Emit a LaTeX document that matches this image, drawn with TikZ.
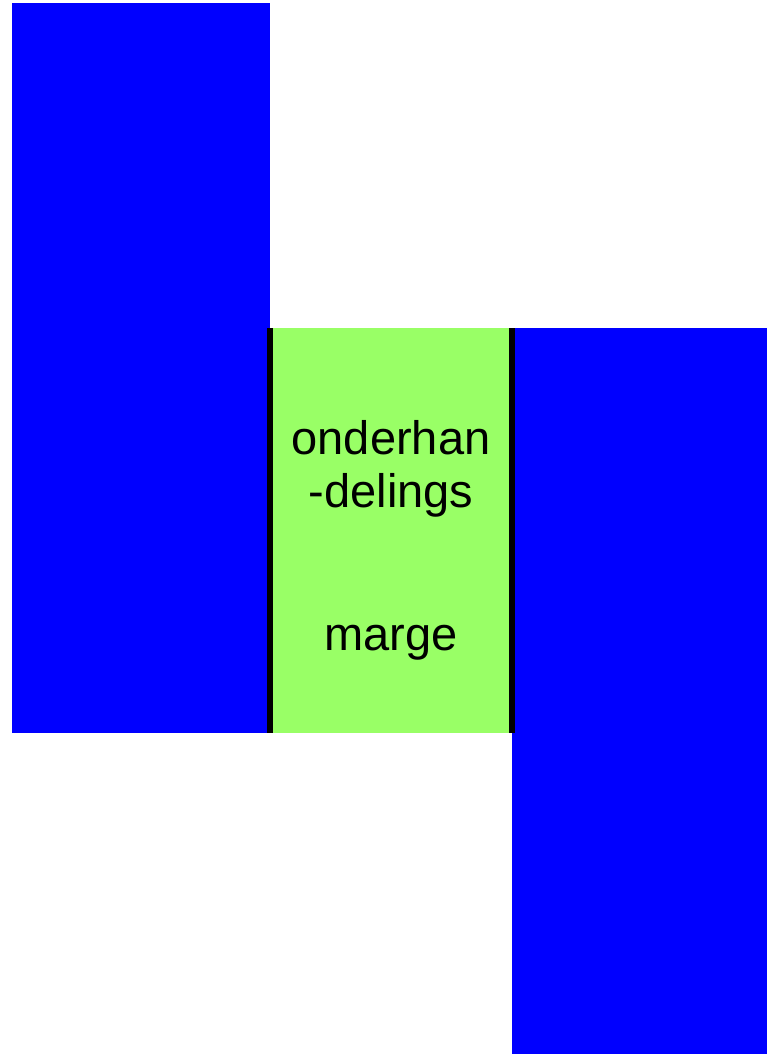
\documentclass[tikz,border=0pt]{standalone}
\usepackage{fontspec}
\setmainfont{Liberation Sans}
\definecolor{bblue}{RGB}{0,0,255}
\definecolor{lgreen}{RGB}{153,255,102}
\begin{document}
\begin{tikzpicture}[x=1pt,y=-1pt,
  block/.style={fill=bblue,draw=none},
  margin/.style={fill=lgreen,draw=none},
  edge/.style={draw=black,line width=6pt},
  lbl/.style={font=\fontsize{47}{53}\selectfont,anchor=base,inner sep=0pt}]
\useasboundingbox (0,0) rectangle (767,1054);
\fill[block] (12,3) rectangle (270,733);
\fill[block] (512,328) rectangle (767,1054);
\fill[margin] (270,328) rectangle (512,733);
\coordinate (l1) at (270,328);
\coordinate (l2) at (270,733);
\coordinate (r1) at (512,328);
\coordinate (r2) at (512,733);
\draw[edge] (l1) -- (l2);
\draw[edge] (r1) -- (r2);
\node[lbl] (t1) at (391,454) {onderhan};
\node[lbl] (t2) at (391,507) {-delings};
\node[lbl] (t3) at (391,650) {marge};
\end{tikzpicture}
\end{document}
